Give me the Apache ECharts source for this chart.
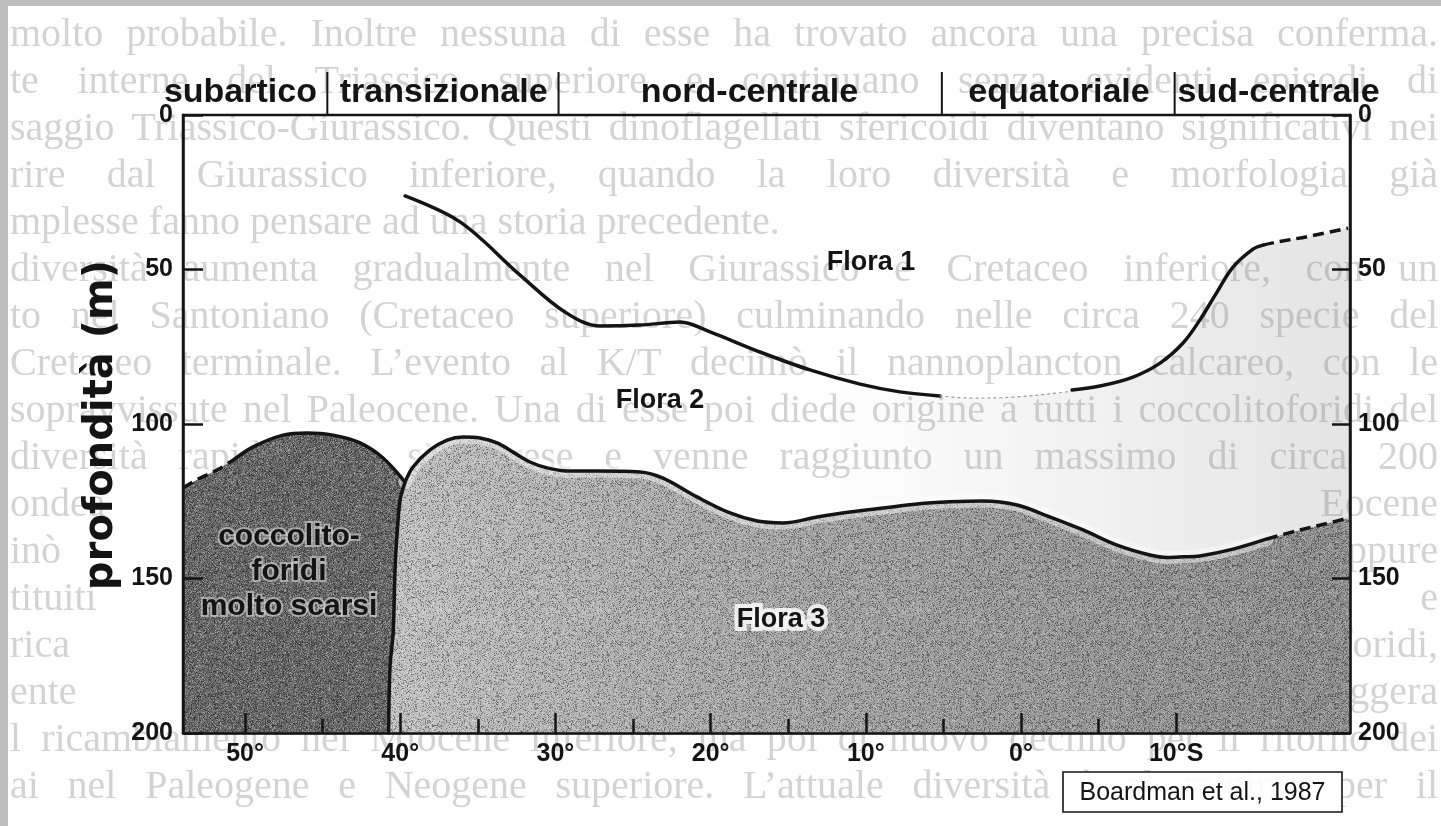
<!DOCTYPE html>
<html>
<head>
<meta charset="utf-8">
<script src="https://cdn.jsdelivr.net/npm/echarts@6/dist/echarts.min.js"></script>
<style>
html, body { margin: 0; padding: 0; background: #ffffff; }
#chart { width: 1441px; height: 826px; }
</style>
</head>
<body>
<div id="chart"></div>
<script>
// ---- axis ranges and ticks (latitude in degrees, south negative; depth in metres)
const X_MIN = -21.2;
const X_MAX = 54;
const latTicks = [50, 40, 30, 20, 10, 0, -10];
const latMinorTicks = [45, 35, 25, 15, 5, -5];
const latTickLabels = ['50°', '40°', '30°', '20°', '10°', '0°', '10°S'];
const depthTicks = [0, 50, 100, 150, 200];

// ---- oceanographic zones along the top: separators and label anchors
const zoneSeparators = [44.7, 29.8, 5.1, -9.9];
const zoneNames = ['subartico', 'transizionale', 'nord-centrale', 'equatoriale', 'sud-centrale'];
const zoneLabelLat = [50.3, 37.2, 17.5, -2.45, -16.6];

// ---- boundary Flora 1 / Flora 2  [lat, depth]
const floraOneNorth = [[39.69, 26.2], [36.15, 34.6], [32.28, 51.8], [29.38, 63.8], [27.13, 68.3], [24.55, 68.0], [21.97, 67.0], [20.04, 70.2], [16.82, 76.7], [13.6, 82.5], [10.37, 87.1], [7.8, 89.6], [5.22, 90.9]];
const floraOneGap = [[5.22, 90.9], [3.29, 91.6], [0.52, 91.3], [-2.96, 89.6], [-3.29, 89.0]];
const floraOneSouth = [[-3.29, 89.0], [-5.09, 87.7], [-7.22, 84.8], [-8.96, 80.3], [-10.44, 73.8], [-11.53, 66.3], [-12.63, 57.3], [-13.66, 49.2], [-14.95, 43.4], [-15.59, 42.1]];
const floraOneSouthDashed = [[-15.59, 42.1], [-16.5, 41.1], [-18.62, 39.2], [-21.07, 36.6]];

// ---- zone of very scarce coccolithophorids
const scarceDashed = [[54.0, 120.7], [52.9, 117.5], [51.8, 114.9], [50.77, 111.7]];
const scarceTop = [[50.77, 111.7], [49.48, 107.4], [47.55, 103.6], [46.0, 102.9], [44.33, 103.6], [42.59, 106.1], [41.11, 111.0], [39.69, 118.8]];
const frontLine = [[39.69, 118.8], [40.01, 124.6], [40.2, 135.3], [40.33, 146.3], [40.46, 167.6], [40.66, 178.6], [40.75, 200]];

// ---- boundary Flora 2 / Flora 3
const floraThreeTop = [[39.69, 118.8], [39.18, 113.9], [38.08, 108.4], [36.98, 105.2], [35.95, 104.2], [34.86, 104.5], [33.76, 106.1], [32.73, 109.1], [31.64, 112.3], [30.54, 114.2], [29.25, 115.2], [27.32, 115.2], [24.55, 115.5], [23.07, 117.5], [20.88, 123.6], [18.75, 128.8], [17.0, 131.4], [15.33, 132.0], [13.14, 130.1], [11.02, 128.5], [8.89, 127.2], [6.7, 125.9], [4.57, 125.2], [2.45, 124.9], [0.26, 126.2], [-1.87, 130.1], [-4.0, 134.3], [-6.19, 139.2], [-8.31, 142.4], [-9.41, 143.2], [-10.44, 143.0], [-11.53, 142.7], [-13.66, 140.5], [-15.85, 137.2]];
const floraThreeDashed = [[-15.85, 137.2], [-17.98, 134.3], [-20.1, 131.7], [-21.13, 130.4]];

// ---- labels inside the plot
const regionLabelText = ['Flora 1', 'Flora 2', 'Flora 3', 'coccolito-\nforidi\nmolto scarsi'];
const regionLabelPos = [[9.66, 47.6], [23.26, 92.4], [15.46, 163.4], [47.17, 147.9]];

const yTitle = 'profondità (m)';
const sourceNote = 'Boardman et al., 1987';

// ---- page text showing through from the reverse side
const pageLines = [
  [35, 'molto probabile. Inoltre nessuna di esse ha trovato ancora una precisa conferma.'],
  [82, 'te interne del Triassico superiore e continuano senza evidenti episodi di'],
  [129, 'saggio Triassico-Giurassico. Questi dinoflagellati sfericoidi diventano significativi nei'],
  [176, 'rire dal Giurassico inferiore, quando la loro diversità e morfologia già'],
  [223, 'mplesse fanno pensare ad una storia precedente.', null, true],
  [270, 'diversità aumenta gradualmente nel Giurassico e Cretaceo inferiore, con un'],
  [317, 'to nel Santoniano (Cretaceo superiore) culminando nelle circa 240 specie del'],
  [364, 'Cretaceo terminale. L\u2019evento al K/T decimò il nannoplancton calcareo, con le'],
  [411, 'sopravvissute nel Paleocene. Una di esse poi diede origine a tutti i coccolitoforidi del'],
  [458, 'diversità rapidamente si riprese e venne raggiunto un massimo di circa 200'],
  [505, 'ondea', 'Eocene'],
  [552, 'inò', 'eppure'],
  [599, 'tituiti', 'e'],
  [646, 'rica', 'toforidi,'],
  [693, 'ente', 'leggera'],
  [740, 'l ricambiamento nel Miocene inferiore, ma poi di nuovo declinò per il ritorno dei'],
  [787, 'ai nel Paleogene e Neogene superiore. L\u2019attuale diversità è al minimo per il']
];

// ---- styling
const INK = '#141414';
const SANS = '"Liberation Sans", Arial, Helvetica, sans-serif';
const WIDE = '"DejaVu Sans", "Liberation Sans", sans-serif';
const SERIF = '"Liberation Serif", "Times New Roman", serif';
const PAGE_FONT = '40px ' + SERIF;
const PAGE_INK = '#d3d3d3';

// deterministic grain used as a print-screen texture
function hash(x, y, s) {
  let n = Math.imul(x, 374761393) + Math.imul(y, 668265263) + Math.imul(s, 1103515245);
  n = Math.imul(n ^ (n >>> 13), 1274126177);
  n ^= n >>> 16;
  return (n >>> 0) / 4294967296;
}
function makeGrain(size, seed, darkA, lightA) {
  const c = document.createElement('canvas');
  c.width = c.height = size;
  const ctx = c.getContext('2d');
  const img = ctx.createImageData(size, size);
  for (let y = 0; y < size; y++) {
    for (let x = 0; x < size; x++) {
      const v = hash(x, y, seed);
      const i = (y * size + x) * 4;
      const dark = v < 0.5;
      const t = dark ? (0.5 - v) * 2 : (v - 0.5) * 2;
      const g = dark ? 0 : 255;
      img.data[i] = img.data[i + 1] = img.data[i + 2] = g;
      img.data[i + 3] = Math.round(t * t * 255 * (dark ? darkA : lightA));
    }
  }
  ctx.putImageData(img, 0, 0);
  return c;
}
const grainStrong = makeGrain(160, 7, 0.9, 0.7);

const LG = echarts.graphic.LinearGradient;

// filled regions drawn through the cartesian coordinate system
function areaSeries(id, outline, fill, grain, grainOpacity, z) {
  return {
    type: 'custom', id: id, coordinateSystem: 'cartesian2d', silent: true, clip: true, z: z,
    data: outline,
    renderItem: function (params, api) {
      if (params.dataIndex !== 0) return null;
      const pts = outline.map(function (p) { return api.coord(p); });
      const kids = [{ type: 'polygon', shape: { points: pts }, style: { fill: fill } }];
      if (grain) {
        kids.push({ type: 'polygon', shape: { points: pts }, style: { fill: { image: grain, repeat: 'repeat' }, opacity: grainOpacity } });
      }
      return { type: 'group', children: kids };
    }
  };
}

function lineSeries(id, data, style, z) {
  return {
    type: 'line', id: id, data: data, showSymbol: false, symbol: 'none', smooth: 0.35,
    silent: true, z: z, clip: false,
    lineStyle: Object.assign({ color: INK, width: 3.5, cap: 'round', join: 'round' }, style)
  };
}

const scarceOutline = [].concat(scarceDashed, scarceTop.slice(1), frontLine.slice(1), [[X_MAX, 200]]);
const floraThreeOutline = [].concat(
  floraThreeTop,
  floraThreeDashed.slice(1),
  [[X_MIN, floraThreeDashed[floraThreeDashed.length - 1][1]], [X_MIN, 200]],
  frontLine.slice().reverse()
);
const floraTwoTint = [].concat(
  floraOneNorth.filter(function (p) { return p[0] <= 14; }),
  floraOneGap.slice(1),
  floraOneSouth.slice(1),
  floraOneSouthDashed.slice(1),
  [[X_MIN, floraOneSouthDashed[floraOneSouthDashed.length - 1][1]], [X_MIN, floraThreeDashed[floraThreeDashed.length - 1][1]]],
  floraThreeDashed.slice().reverse(),
  floraThreeTop.filter(function (p) { return p[0] <= 14; }).reverse()
);

function tickLabel(v) {
  for (let i = 0; i < latTicks.length; i++) {
    if (Math.abs(latTicks[i] - v) < 1e-6) return latTickLabels[i];
  }
  return '';
}

// justified lines of the page text
function pageText() {
  const ctx = document.createElement('canvas').getContext('2d');
  ctx.font = PAGE_FONT;
  const left = 10, right = 1438;
  const out = [];
  const base = { fill: PAGE_INK, font: PAGE_FONT, verticalAlign: 'middle' };
  function word(text, x, y, align) {
    out.push({ type: 'text', z: -10, silent: true, style: Object.assign({ text: text, x: x, y: y, align: align }, base) });
  }
  pageLines.forEach(function (line) {
    const y = line[0], text = line[1], tail = line[2], ragged = line[3];
    if (tail) { word(text, left, y, 'left'); word(tail, right, y, 'right'); return; }
    if (ragged) { word(text, left, y, 'left'); return; }
    const words = text.split(' ');
    const widths = words.map(function (w) { return ctx.measureText(w).width; });
    const total = widths.reduce(function (a, b) { return a + b; }, 0);
    const gap = (right - left - total) / (words.length - 1);
    let x = left;
    words.forEach(function (w, i) { word(w, x, y, 'left'); x += widths[i] + gap; });
  });
  return out;
}

const axisFont = { color: INK, fontSize: 25, fontWeight: 'bold', fontFamily: SANS };
const tickLine = { color: INK, width: 2.5 };

const option = {
  animation: false,
  backgroundColor: '#ffffff',
  grid: {
    left: 183, top: 115, width: 1167, height: 618,
    show: true, borderColor: INK, borderWidth: 2.5, backgroundColor: 'transparent',
    outerBoundsMode: 'none'
  },
  xAxis: [
    {
      type: 'value', min: X_MIN, max: X_MAX, inverse: true, position: 'bottom', z: 20,
      axisLine: { show: true, onZero: false, lineStyle: tickLine },
      axisTick: { show: true, inside: true, length: 20, customValues: latTicks, lineStyle: tickLine },
      axisLabel: Object.assign({ show: true, customValues: latTicks, formatter: tickLabel, margin: 9 }, axisFont),
      splitLine: { show: false }
    },
    {
      type: 'value', min: X_MIN, max: X_MAX, inverse: true, position: 'bottom', z: 20,
      axisLine: { show: false, onZero: false },
      axisTick: { show: true, inside: true, length: 14, customValues: latMinorTicks, lineStyle: tickLine },
      axisLabel: { show: false },
      splitLine: { show: false }
    }
  ],
  yAxis: [
    {
      type: 'value', min: depthTicks[0], max: depthTicks[depthTicks.length - 1], interval: 50, inverse: true, position: 'left', z: 20,
      axisLine: { show: true, onZero: false, lineStyle: tickLine },
      axisTick: { show: true, inside: true, length: 20, lineStyle: tickLine },
      axisLabel: Object.assign({ margin: 10 }, axisFont),
      splitLine: { show: false }
    },
    {
      type: 'value', min: depthTicks[0], max: depthTicks[depthTicks.length - 1], interval: 50, inverse: true, position: 'right', z: 20,
      axisLine: { show: true, onZero: false, lineStyle: tickLine },
      axisTick: { show: true, inside: true, length: 18, lineStyle: tickLine },
      axisLabel: Object.assign({ margin: 8 }, axisFont),
      splitLine: { show: false }
    }
  ],
  graphic: [].concat(pageText(), [
    { type: 'rect', z: 50, silent: true, shape: { x: 0, y: 0, width: 1441, height: 6 }, style: { fill: '#bdbdbd' } },
    { type: 'rect', z: 50, silent: true, shape: { x: 0, y: 0, width: 8, height: 826 }, style: { fill: '#bdbdbd' } },
    {
      type: 'text', z: 40, silent: true, x: 102, y: 425, rotation: Math.PI / 2,
      style: { text: yTitle, font: 'bold 40px ' + WIDE, fill: INK, align: 'center', verticalAlign: 'middle' }
    },
    {
      type: 'rect', z: 40, silent: true, shape: { x: 1063, y: 772, width: 279, height: 40 },
      style: { fill: 'rgba(255,255,255,0.9)', stroke: INK, lineWidth: 1.6 }
    },
    {
      type: 'text', z: 41, silent: true, x: 1202.5, y: 793,
      style: { text: sourceNote, font: '25px ' + SANS, fill: INK, align: 'center', verticalAlign: 'middle' }
    }
  ]),
  series: [
    areaSeries('flora2tint', floraTwoTint,
      new LG(0, 0, 1, 0, [
        { offset: 0, color: 'rgba(120,120,120,0)' },
        { offset: 0.45, color: 'rgba(120,120,120,0.09)' },
        { offset: 1, color: 'rgba(120,120,120,0.2)' }
      ]), null, 0, 2),
    areaSeries('flora3', floraThreeOutline,
      new LG(0, 0, 1, 0, [
        { offset: 0, color: '#c2c2c2' },
        { offset: 0.35, color: '#a8a8a8' },
        { offset: 0.7, color: '#979797' },
        { offset: 1, color: '#8c8c8c' }
      ]), grainStrong, 0.55, 3),
    areaSeries('scarce', scarceOutline, '#656565', grainStrong, 0.6, 3),

    // soft pale rim just inside the Flora 3 boundary
    lineSeries('flora3rim', floraThreeTop, { color: 'rgba(255,255,255,0.45)', width: 13 }, 4),

    lineSeries('flora1n', floraOneNorth, {}, 6),
    lineSeries('flora1gap', floraOneGap, { color: '#9a9a9a', width: 1.2, type: [2, 4] }, 6),
    lineSeries('flora1s', floraOneSouth, {}, 6),
    lineSeries('flora1sd', floraOneSouthDashed, { type: [11, 6], cap: 'butt' }, 6),
    lineSeries('scarced', scarceDashed, { type: [11, 6], cap: 'butt' }, 6),
    lineSeries('scarcet', scarceTop, {}, 6),
    lineSeries('front', frontLine, {}, 6),
    lineSeries('flora3t', floraThreeTop, {}, 6),
    lineSeries('flora3d', floraThreeDashed, { type: [11, 6], cap: 'butt' }, 6),

    // separators between the zones, rising above the frame
    {
      type: 'custom', id: 'zoneSeparators', coordinateSystem: 'cartesian2d', silent: true, clip: false, z: 8,
      encode: { x: 0 },
      data: zoneSeparators.map(function (v) { return [v]; }),
      renderItem: function (params, api) {
        const a = api.coord([api.value(0), 0]);
        return { type: 'line', shape: { x1: a[0], y1: a[1], x2: a[0], y2: a[1] - 43 }, style: { stroke: INK, lineWidth: 2 } };
      }
    },
    // zone names
    {
      type: 'custom', id: 'zoneNames', coordinateSystem: 'cartesian2d', silent: true, clip: false, z: 8,
      encode: { x: 0 },
      data: zoneLabelLat.map(function (v) { return [v]; }),
      renderItem: function (params, api) {
        const a = api.coord([api.value(0), 0]);
        return {
          type: 'text',
          style: {
            text: zoneNames[params.dataIndex], x: a[0], y: a[1] - 22,
            align: 'center', verticalAlign: 'middle', fill: INK, font: 'bold 34px ' + SANS
          }
        };
      }
    },

    // region names
    {
      type: 'custom', id: 'regionLabels', coordinateSystem: 'cartesian2d', silent: true, clip: false, z: 9,
      data: regionLabelPos,
      renderItem: function (params, api) {
        const p = api.coord([api.value(0), api.value(1)]);
        const i = params.dataIndex;
        const scarce = i === 3;
        return {
          type: 'text',
          style: {
            text: regionLabelText[i], x: p[0], y: p[1], align: 'center', verticalAlign: 'middle',
            fill: INK,
            font: scarce ? 'bold 30px ' + SANS : 'bold 27px ' + SANS,
            lineHeight: 35,
            stroke: scarce ? 'rgba(225,225,225,0.55)' : (i === 2 ? 'rgba(245,245,245,0.9)' : null),
            lineWidth: scarce ? 4 : 8
          }
        };
      }
    }
  ]
};

const chart = echarts.init(document.getElementById('chart'), null, { renderer: 'canvas', width: 1441, height: 826 });
chart.setOption(option);
</script>
</body>
</html>
